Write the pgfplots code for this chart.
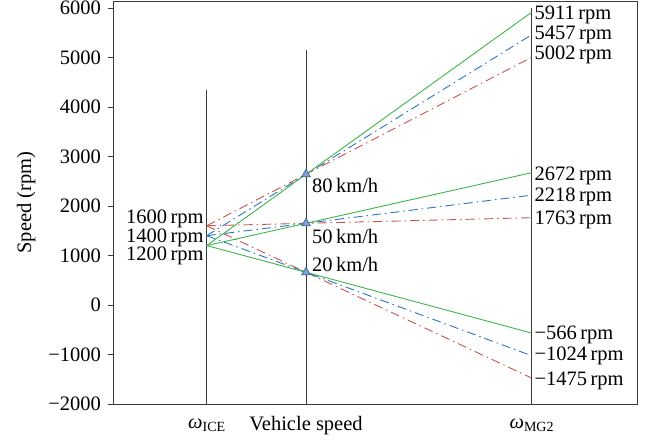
\documentclass[border=0pt]{standalone}
\usepackage{fontspec}
\setmainfont{Liberation Serif}
\usepackage{pgfplots}
\pgfplotsset{compat=1.18}
\definecolor{lgreen}{HTML}{3DB54A}
\definecolor{lblue}{HTML}{2B74C4}
\definecolor{lred}{HTML}{C65550}
\definecolor{axgray}{HTML}{3A3A3A}
\definecolor{trifill}{HTML}{7EA3D0}
\definecolor{tridraw}{HTML}{3C64A0}
\newcommand{\om}[1]{\textit{ω}\raisebox{-0.35ex}{\fontsize{14}{14}\selectfont #1}}

\begin{document}
\fontsize{20.5}{22}\selectfont
\begin{tikzpicture}[
  dd/.style={dash pattern=on 9pt off 4pt on 1.5pt off 4pt},
  lbl/.style={font=\fontsize{20.5}{22}\selectfont, inner sep=0pt},
]
\begin{axis}[
  scale only axis,
  width=524pt, height=403pt,
  xmin=-0.944, xmax=4.333,
  ymin=-2000, ymax=6140,
  ytick={-2000,-1000,...,6000},
  yticklabels={−2000,−1000,0,1000,2000,3000,4000,5000,6000},
  xtick=\empty,
  axis line style={axgray, line width=0.9pt},
  ytick pos=left,
  tick align=outside,
  major tick length=5pt,
  tick style={axgray, line width=0.8pt},
  yticklabel style={font=\fontsize{20.5}{22}\selectfont},
  ylabel={Speed (rpm)},
  ylabel style={font=\fontsize{20.5}{22}\selectfont, yshift=-1pt},
  clip=false,
  every axis plot/.append style={line width=0.9pt},
]
% lever lines
\addplot[axgray, line width=1pt] coordinates {(0,-2000) (0,4340)};
\addplot[axgray, line width=1pt] coordinates {(1,-2000) (1,5150)};
\addplot[axgray, line width=1pt] coordinates {(3.271,-2000) (3.271,6000)};
% 1600 rpm (red)
\addplot[lred, dd] coordinates {(0,1600) (1,2640) (3.271,5002)};
\addplot[lred, dd] coordinates {(0,1600) (1,1650) (3.271,1763)};
\addplot[lred, dd] coordinates {(0,1600) (1,660) (3.271,-1475)};
% 1400 rpm (blue)
\addplot[lblue, dd] coordinates {(0,1400) (1,2640) (3.271,5457)};
\addplot[lblue, dd] coordinates {(0,1400) (1,1650) (3.271,2218)};
\addplot[lblue, dd] coordinates {(0,1400) (1,660) (3.271,-1024)};
% 1200 rpm (green)
\addplot[lgreen] coordinates {(0,1200) (1,2640) (3.271,5911)};
\addplot[lgreen] coordinates {(0,1200) (1,1650) (3.271,2672)};
\addplot[lgreen] coordinates {(0,1200) (1,660) (3.271,-566)};
% vehicle speed points
\addplot[only marks, mark=triangle*, mark size=5pt,
  mark options={fill=trifill, draw=tridraw, line width=0.7pt}]
  coordinates {(1,2640) (1,1650) (1,660)};
% labels
\node[lbl, anchor=east] at (axis cs:-0.03,1735) {1600\,rpm};
\node[lbl, anchor=east] at (axis cs:-0.03,1360) {1400\,rpm};
\node[lbl, anchor=east] at (axis cs:-0.03,985) {1200\,rpm};
\node[lbl, anchor=west] at (axis cs:1.06,2420) {80\,km/h};
\node[lbl, anchor=west] at (axis cs:1.06,1375) {50\,km/h};
\node[lbl, anchor=west] at (axis cs:1.06,810) {20\,km/h};
\node[lbl, anchor=west] at (axis cs:3.30,5860) {5911\,rpm};
\node[lbl, anchor=west] at (axis cs:3.30,5455) {5457\,rpm};
\node[lbl, anchor=west] at (axis cs:3.30,5050) {5002\,rpm};
\node[lbl, anchor=west] at (axis cs:3.30,2606) {2672\,rpm};
\node[lbl, anchor=west] at (axis cs:3.30,2182) {2218\,rpm};
\node[lbl, anchor=west] at (axis cs:3.30,1717) {1763\,rpm};
\node[lbl, anchor=west] at (axis cs:3.30,-606) {−566\,rpm};
\node[lbl, anchor=west] at (axis cs:3.30,-1030) {−1024\,rpm};
\node[lbl, anchor=west] at (axis cs:3.30,-1529) {−1475\,rpm};
\node[lbl] at (axis cs:0,-2430) {\om{ICE}};
\node[lbl] at (axis cs:1,-2430) {Vehicle speed};
\node[lbl] at (axis cs:3.271,-2430) {\om{MG2}};
\end{axis}
\pgfresetboundingbox
\path[use as bounding box] ([shift={(-113pt,-39pt)}]current axis.south west)
  rectangle ([shift={(22pt,1pt)}]current axis.north east);
\end{tikzpicture}
\end{document}
